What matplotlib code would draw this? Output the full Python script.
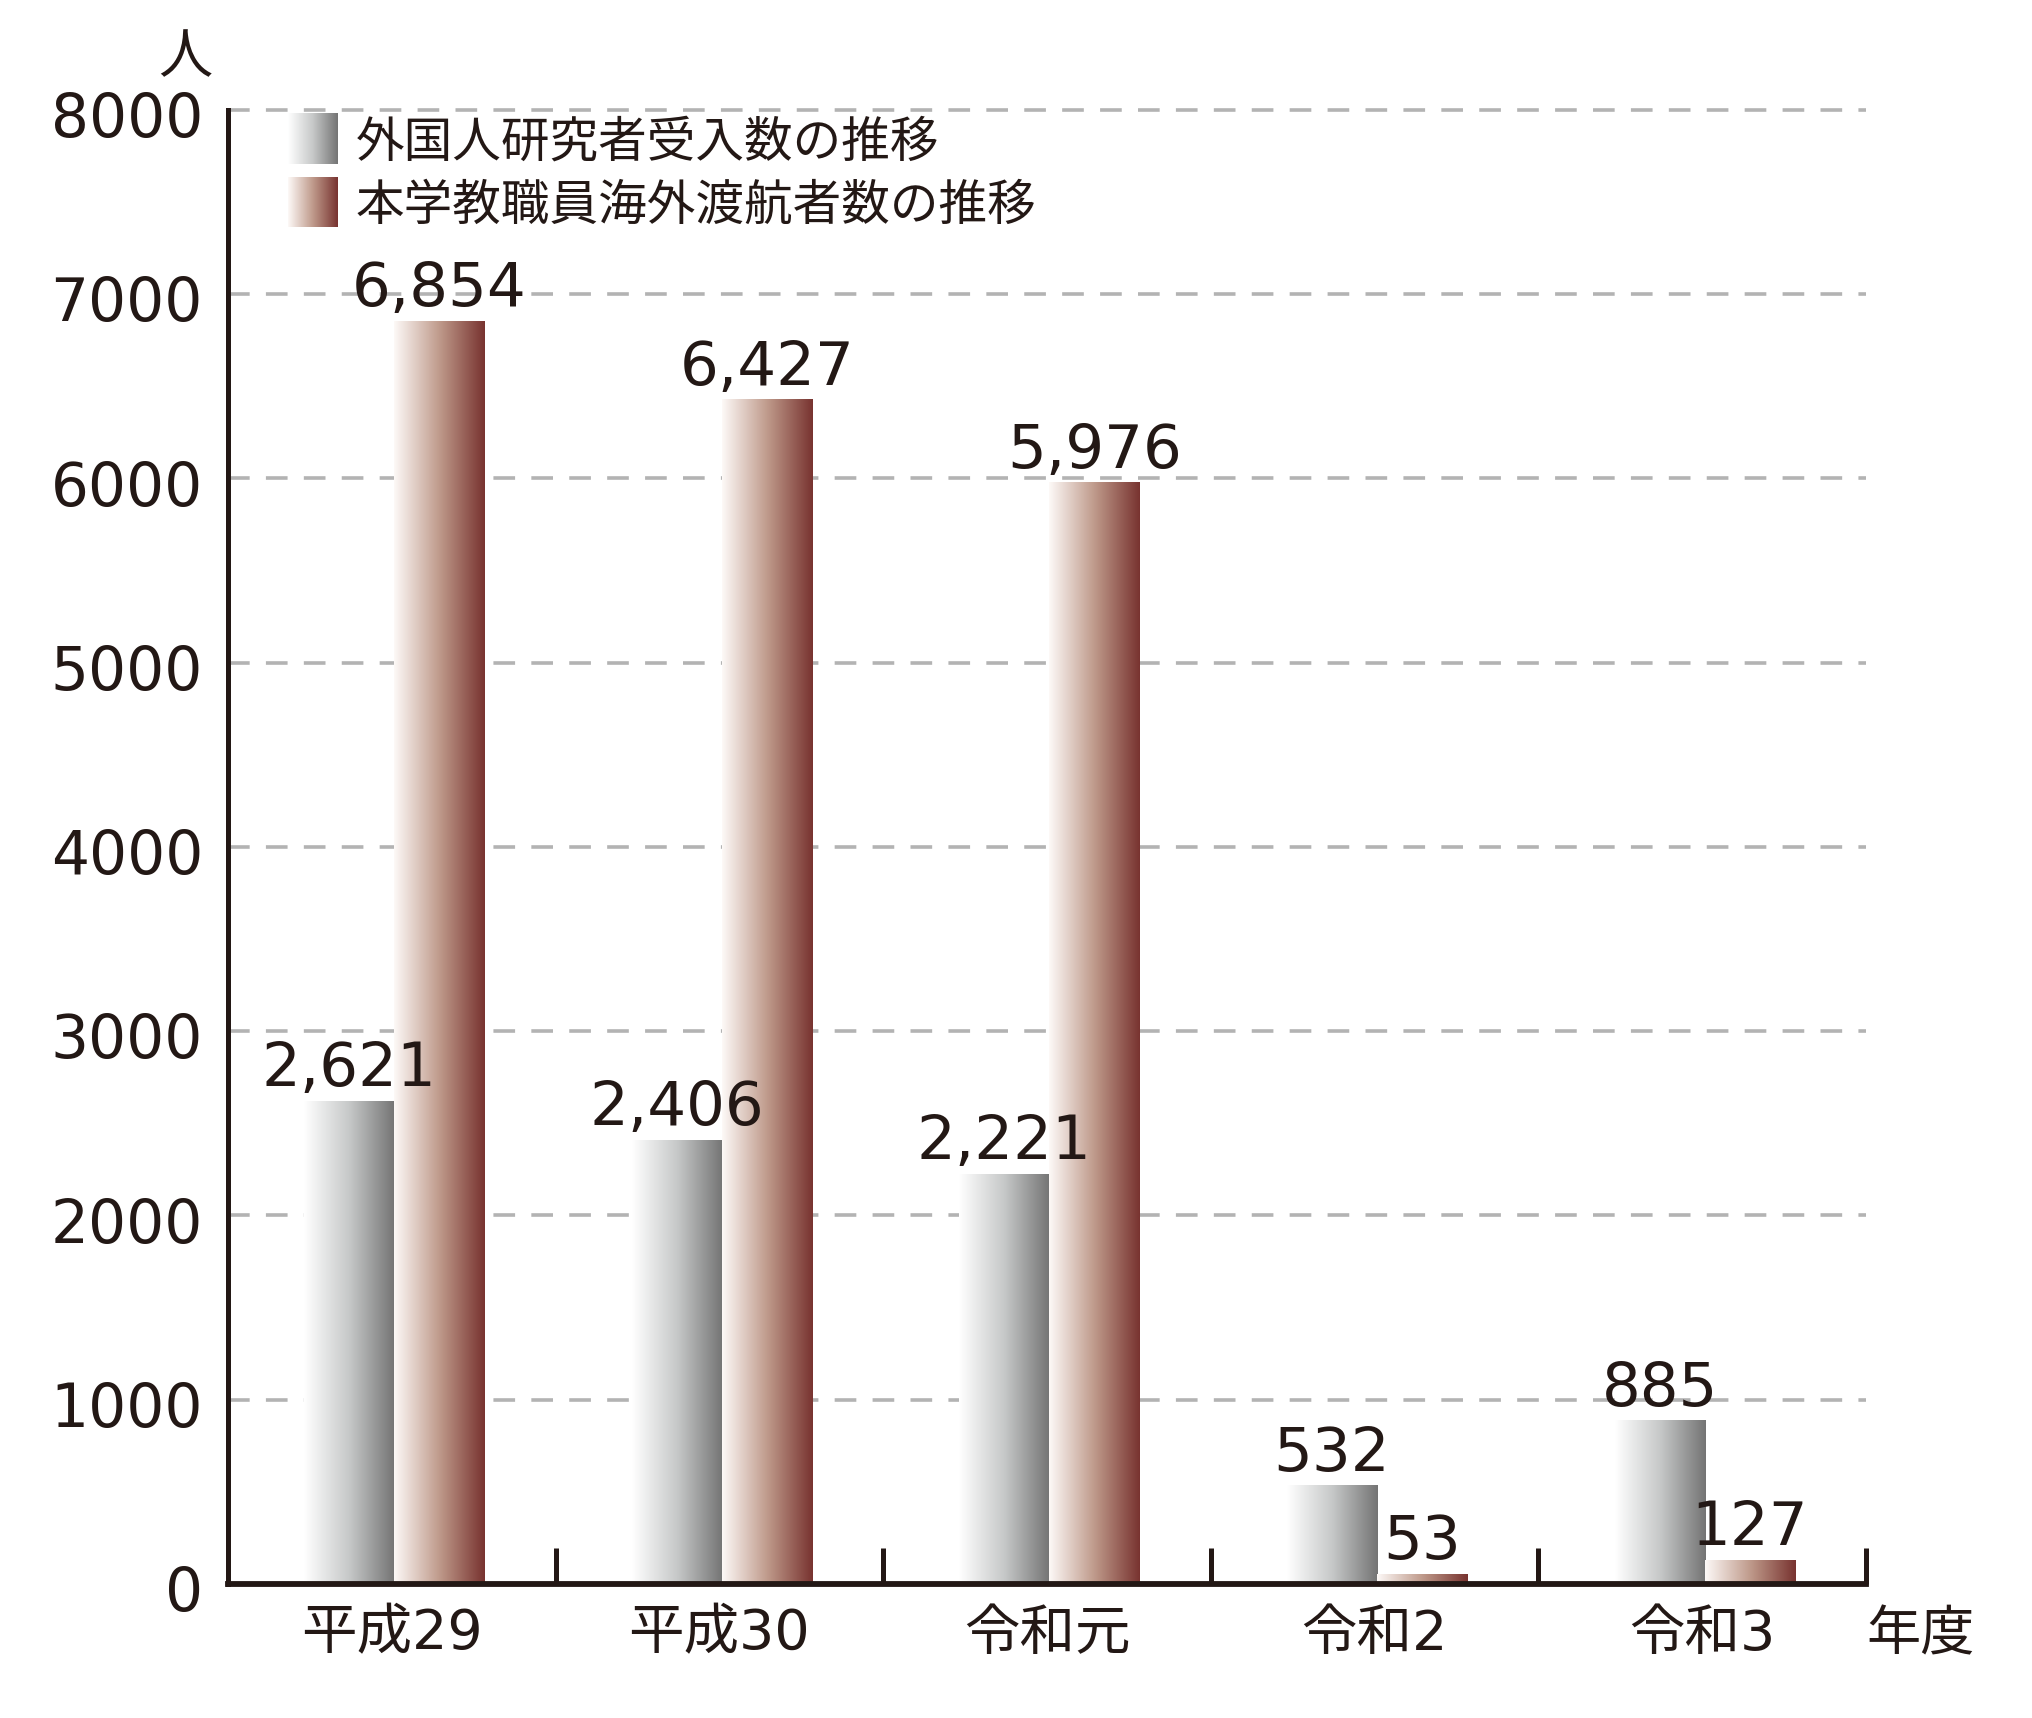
import numpy as np
import matplotlib.pyplot as plt
from matplotlib.colors import LinearSegmentedColormap
from matplotlib.transforms import ScaledTranslation

plt.rcParams['font.family'] = ['DejaVu Sans', 'Noto Sans CJK JP']

years = ['平成29', '平成30', '令和元', '令和2', '令和3']
researchers = [2621, 2406, 2221, 532, 885]
staff_abroad = [6854, 6427, 5976, 53, 127]
series_names = ['外国人研究者受入数の推移', '本学教職員海外渡航者数の推移']
yticks = [0, 1000, 2000, 3000, 4000, 5000, 6000, 7000, 8000]

ink = '#231815'
gray_cmap = LinearSegmentedColormap.from_list('gray_bar', ['#ffffff', '#c6c8c8', '#747474'])
brown_cmap = LinearSegmentedColormap.from_list('brown_bar', ['#fdf9f7', '#bf9a8b', '#783330'])
grad = np.linspace(0, 1, 256).reshape(1, -1)


def gradient_rect(ax, x0, x1, y0, y1, cmap):
    ax.imshow(grad, cmap=cmap, aspect='auto', extent=(x0, x1, y0, y1),
              interpolation='bilinear', zorder=2)


fig = plt.figure(figsize=(20.32, 17.18), dpi=100)
ax = fig.add_axes([0.1122, 0.078, 0.8061, 0.858])

x = np.arange(len(years))
w = 0.275
bars_a = ax.bar(x - 0.13, researchers, w, color='none', edgecolor='none')
bars_b = ax.bar(x + 0.145, staff_abroad, w, color='none', edgecolor='none')

for bars, cmap in ((bars_a, gray_cmap), (bars_b, brown_cmap)):
    for p in bars:
        gradient_rect(ax, p.get_x(), p.get_x() + p.get_width(), 0, p.get_height(), cmap)
        ax.annotate(f'{int(p.get_height()):,}', (p.get_x() + p.get_width() / 2, p.get_height()),
                    xytext=(0, 11), textcoords='offset points', ha='center', va='baseline',
                    fontsize=44, color=ink, zorder=4)

# legend
gradient_rect(ax, -0.318, -0.168, 7704, 7979, gray_cmap)
gradient_rect(ax, -0.318, -0.168, 7366, 7634, brown_cmap)
ax.text(-0.11, 7822, series_names[0], fontsize=35, color=ink, va='center', ha='left')
ax.text(-0.11, 7482, series_names[1], fontsize=35, color=ink, va='center', ha='left')

ax.set_xlim(-0.5, 4.5)
ax.set_ylim(0, 8000)

ax.set_yticks(yticks)
ax.set_yticklabels([str(v) for v in yticks])
ax.tick_params(axis='y', length=0, pad=18, labelsize=43, labelcolor=ink)
shift = ScaledTranslation(0, -3 / 72, fig.dpi_scale_trans)
for lbl in ax.get_yticklabels():
    lbl.set_transform(lbl.get_transform() + shift)

ax.set_xticks(np.arange(-0.5, 5, 1))
ax.set_xticklabels([])
ax.tick_params(axis='x', which='major', direction='in', length=26, width=3.6, color=ink)
ax.set_xticks(x, labels=years, minor=True)
ax.tick_params(axis='x', which='minor', length=0, pad=17, labelsize=40, labelcolor=ink)

ax.yaxis.grid(True, color='#b3b3b3', linewidth=2.6, linestyle=(0, (6, 4.5)))
ax.set_axisbelow(True)
for gl in ax.get_ygridlines():
    gl.set_clip_on(False)

for side in ('top', 'right'):
    ax.spines[side].set_visible(False)
ax.spines['left'].set_linewidth(3.6)
ax.spines['left'].set_color(ink)
ax.spines['bottom'].set_linewidth(4.2)
ax.spines['bottom'].set_color(ink)
ax.spines['bottom'].set_zorder(5)

fig.text(0.091, 0.966, '人', fontsize=39, color=ink, ha='center', va='center')
fig.text(0.945, 0.048, '年度', fontsize=39, color=ink, ha='center', va='center')

fig.savefig('out.png', dpi=100)
